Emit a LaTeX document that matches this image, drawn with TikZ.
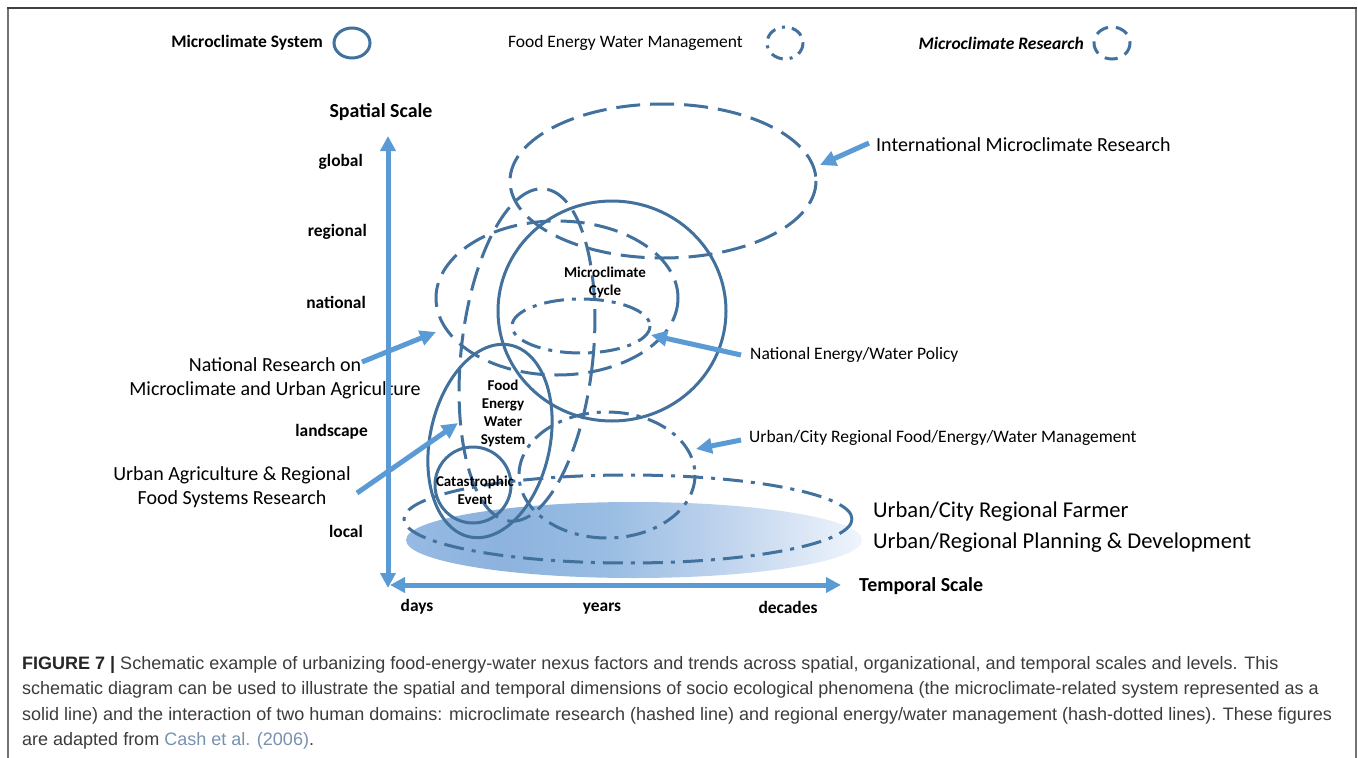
\documentclass[tikz,border=0pt]{standalone}
\usepackage{fontspec}
\setmainfont{Carlito}
\newfontfamily\capfont{Liberation Sans}
\usetikzlibrary{arrows.meta}
\definecolor{ell}{RGB}{65,113,156}
\definecolor{arr}{RGB}{91,155,213}
\definecolor{capcol}{RGB}{60,60,60}
\definecolor{citecol}{RGB}{120,145,175}
\pgfdeclarehorizontalshading{baseshade}{100bp}{rgb(0bp)=(0.59,0.73,0.89); rgb(25bp)=(0.59,0.73,0.89); rgb(35bp)=(0.55,0.70,0.87); rgb(47bp)=(0.60,0.74,0.89); rgb(60bp)=(0.75,0.83,0.93); rgb(75bp)=(0.94,0.96,0.99); rgb(100bp)=(0.94,0.96,0.99)}
\begin{document}
\begin{tikzpicture}[x=1pt,y=-1pt,
 sysline/.style={draw=ell,line width=3pt},
 resline/.style={draw=ell,line width=3pt,dash pattern=on 24pt off 10pt},
 mgmtline/.style={draw=ell,line width=3pt,dash pattern=on 20pt off 8pt on 4pt off 8pt},
 callout/.style={draw=arr,line width=5pt,-{Triangle[length=16pt,width=15pt]}},
 axisline/.style={draw=arr,line width=5pt,{Triangle[length=15pt,width=15pt]}-{Triangle[length=15pt,width=15pt]}},
 lblbig/.style={font=\fontsize{20}{24}\selectfont,inner sep=0pt,align=center},
 lblmid/.style={font=\fontsize{17.5}{20}\selectfont,inner sep=0pt},
 lblhuge/.style={font=\fontsize{22.6}{26}\selectfont,inner sep=0pt},
 ticklbl/.style={font=\bfseries\fontsize{17.4}{20}\selectfont,inner sep=0pt},
 axtitle/.style={font=\bfseries\fontsize{19.9}{22}\selectfont,inner sep=0pt},
 inlbl/.style={font=\bfseries\fontsize{15}{18}\selectfont,inner sep=0pt,align=center},
 legtxt/.style={font=\fontsize{17.5}{20}\selectfont,inner sep=0pt},
 captxt/.style={font=\capfont\fontsize{18}{22}\selectfont,text=capcol,inner sep=0pt,anchor=west}
]
\useasboundingbox (0,0) rectangle (1358,758);
\fill[white] (0,0) rectangle (1358,758);
% frame
\draw[draw=black!55,line width=2pt] (8,758) -- (8,8);
\draw[draw=black!55,line width=2pt] (1356,8) -- (1356,758);
\draw[draw=black!75,line width=2pt] (7,8) -- (1357,8);

% legend
\node[legtxt,font=\bfseries\fontsize{17.5}{20}\selectfont,anchor=east] (legsys) at (323,43) {Microclimate System};
\draw[sysline] (352,43) ellipse [x radius=18, y radius=15];
\node[legtxt,anchor=east] (legmgmt) at (743,43) {Food Energy Water Management};
\draw[mgmtline,dash pattern=on 12pt off 7pt on 3pt off 7pt] (785,43) ellipse [x radius=18, y radius=16];
\node[legtxt,font=\bfseries\itshape\fontsize{17.5}{20}\selectfont,anchor=east] (legres) at (1084,43) {Microclimate Research};
\draw[resline,dash pattern=on 13pt off 8pt] (1112,43) ellipse [x radius=18, y radius=16];

% shaded base ellipse
\shade[shading=baseshade] (634,540) ellipse [x radius=228, y radius=38];

% research ellipses (dashed)
\draw[resline] (663,181) ellipse [x radius=153, y radius=77];
\draw[resline] (557,298) ellipse [x radius=121, y radius=77];
\draw[resline,rotate around={-6:(527,355)}] (527,355) ellipse [x radius=66, y radius=167];

% microclimate system (solid)
\draw[sysline] (612,311) ellipse [x radius=114, y radius=110];
\draw[sysline,rotate around={-12:(490,441)}] (490,441) ellipse [x radius=60, y radius=98];
\draw[sysline] (473,485) circle [radius=38];

% management (dash-dot)
\draw[mgmtline] (581,326) ellipse [x radius=69, y radius=27];
\draw[mgmtline] (607,475) ellipse [x radius=88, y radius=63];
\draw[mgmtline] (628,519) ellipse [x radius=224, y radius=44];

% inner labels
\node[inlbl] (cycle) at (605,282) {Microclimate\\Cycle};
\node[inlbl] (few) at (503,413) {Food\\Energy\\Water\\System};
\node[inlbl] (cat) at (475,490) {Catastrophic\\Event};

% outer labels
\node[lblbig,anchor=west] (intl) at (876,145) {International Microclimate Research};
\node[lblmid,anchor=west] (policy) at (750,355) {National Energy/Water Policy};
\node[lblmid,anchor=west] (urbmgmt) at (749,438) {Urban/City Regional Food/Energy/Water Management};
\node[lblhuge,anchor=west] (farmer) at (873,512) {Urban/City Regional Farmer};
\node[lblhuge,anchor=west] (planning) at (873,543) {Urban/Regional Planning \& Development};
\node[lblbig] (natres) at (275,378) {National Research on\\Microclimate and Urban Agriculture};
\node[lblbig] (uarf) at (232,487) {Urban Agriculture \& Regional\\Food Systems Research};

% axis labels
\node[axtitle] (spatial) at (381,112) {Spatial Scale};
\node[ticklbl,anchor=east] (global) at (363,162) {global};
\node[ticklbl,anchor=east] (regional) at (367,232) {regional};
\node[ticklbl,anchor=east] (national) at (366,302) {national};
\node[ticklbl,anchor=east] (landscape) at (368,432) {landscape};
\node[ticklbl,anchor=east] (local) at (363,531) {local};
\node[ticklbl] (days) at (417,607) {days};
\node[ticklbl] (years) at (602,609) {years};
\node[ticklbl] (decades) at (788,607) {decades};
\node[axtitle,anchor=west] (temporal) at (859,586) {Temporal Scale};

% callout arrows
\coordinate (a1s) at (869,143); \coordinate (a1e) at (820,165);
\coordinate (a2s) at (362,362); \coordinate (a2e) at (436,332);
\coordinate (a3s) at (741,355); \coordinate (a3e) at (651,335);
\coordinate (a4s) at (741,440); \coordinate (a4e) at (696,449);
\coordinate (a5s) at (357,493); \coordinate (a5e) at (458,423);
\draw[callout] (a1s) -- (a1e);
\draw[callout] (a2s) -- (a2e);
\draw[callout] (a3s) -- (a3e);
\draw[callout] (a4s) -- (a4e);
\draw[callout] (a5s) -- (a5e);

% axes
\coordinate (ytop) at (388,136); \coordinate (ybot) at (388,588);
\coordinate (xl) at (390,585); \coordinate (xr) at (841,585);
\draw[axisline] (ybot) -- (ytop);
\draw[axisline] (xl) -- (xr);

% caption
\node[captxt] (cap1) at (22,665) {\textbf{\color{black!85}FIGURE 7 |} Schematic example of urbanizing food-energy-water nexus factors and trends across spatial, organizational, and temporal scales and levels. This};
\node[captxt] (cap2) at (22,690) {schematic diagram can be used to illustrate the spatial and temporal dimensions of socio ecological phenomena (the microclimate-related system represented as a};
\node[captxt] (cap3) at (22,716) {solid line) and the interaction of two human domains: microclimate research (hashed line) and regional energy/water management (hash-dotted lines). These figures};
\node[captxt] (cap4) at (22,741) {are adapted from \textcolor{citecol}{Cash et al. (2006)}.};
\end{tikzpicture}
\end{document}
